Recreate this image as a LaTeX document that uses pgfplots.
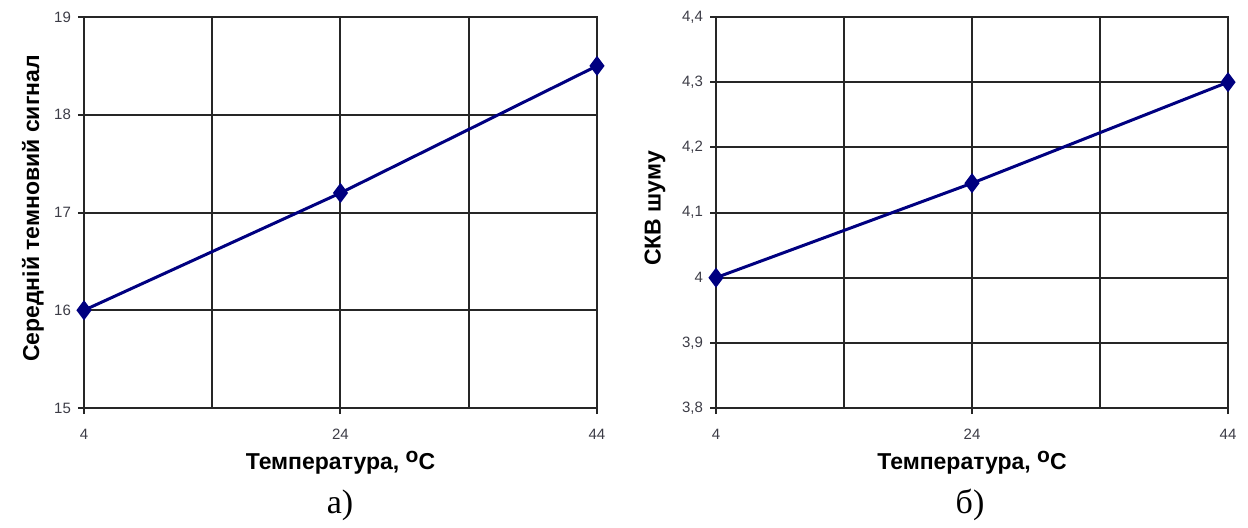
\documentclass[border=0pt]{standalone}
\usepackage{pgfplots}
\pgfplotsset{compat=1.18}
\usepackage{fontspec}
\setmainfont{Liberation Sans}
\newfontfamily\capfont{Liberation Serif}
\definecolor{navyline}{RGB}{0,0,128}
\definecolor{ticktxt}{RGB}{60,60,70}
\begin{document}
\begin{tikzpicture}
\path[use as bounding box] (0pt,0pt) rectangle (624pt,263.5pt);
\pgfplotsset{
  common/.style={
    scale only axis,
    anchor=south west,
    width=256.5pt, height=195.5pt,
    xmin=4, xmax=44,
    xtick={4,24,44},
    minor xtick={14,34},
    xmajorgrids, xminorgrids, ymajorgrids,
    grid style={black!85, line width=1pt},
    minor grid style={black!85, line width=1pt},
    axis line style={black!85, line width=1pt},
    tick style={black!85, line width=1pt},
    tick align=outside,
    major tick length=3pt,
    minor tick length=0pt,
    xtick pos=bottom, ytick pos=left,
    tick label style={font=\fontsize{7.5}{9}\selectfont, text=ticktxt},
    xticklabel style={yshift=-4pt},
    /pgf/number format/use comma,
    /pgf/number format/assume math mode=true,
    label style={font=\bfseries\fontsize{11.5}{13}\selectfont},
    xlabel style={at={(axis description cs:0.5,0)}, anchor=center, yshift=-27.5pt},
    xlabel={Температура, \raisebox{0.55ex}{\fontsize{10.5}{11}\selectfont o}C},
  }
}
\begin{axis}[common,
  at={(42pt,59.5pt)},
  ymin=15, ymax=19, ytick={15,16,17,18,19},
  ylabel={Середній темновий сигнал},
  ylabel style={at={(axis description cs:0,0.5)}, anchor=center, yshift=25.5pt, xshift=2pt},
]
\addplot[navyline, line width=1.5pt, mark=diamond*, mark size=3.8pt, mark options={solid, fill=navyline}]
  coordinates {(4,16) (24,17.2) (44,18.5)};
\end{axis}
\begin{axis}[common,
  at={(358pt,59.5pt)},
  width=256pt,
  ymin=3.8, ymax=4.4, ytick={3.8,3.9,4.0,4.1,4.2,4.3,4.4},
  ylabel={СКВ шуму},
  ylabel style={at={(axis description cs:0,0.5)}, anchor=center, yshift=30.5pt, xshift=2pt},
]
\addplot[navyline, line width=1.5pt, mark=diamond*, mark size=3.8pt, mark options={solid, fill=navyline}]
  coordinates {(4,4.0) (24,4.145) (44,4.3)};
\end{axis}
\node[font=\capfont\fontsize{17}{19}\selectfont, anchor=center] at (170pt,11pt) {а)};
\node[font=\capfont\fontsize{17}{19}\selectfont, anchor=center] at (485pt,11pt) {б)};
\end{tikzpicture}
\end{document}
